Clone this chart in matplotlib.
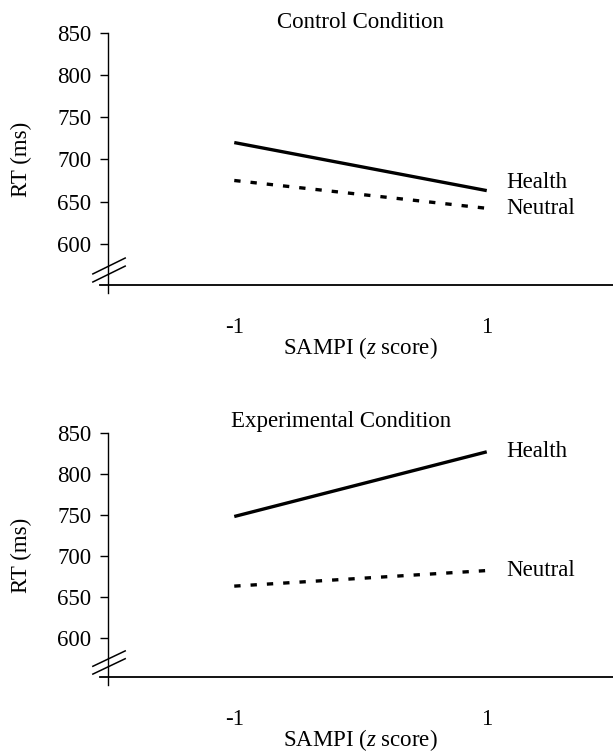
import matplotlib
matplotlib.use("Agg")
import matplotlib.pyplot as plt

plt.rcParams["font.family"] = ["Liberation Serif", "DejaVu Serif"]
plt.rcParams["mathtext.fontset"] = "custom"
plt.rcParams["mathtext.rm"] = "Liberation Serif"
plt.rcParams["mathtext.it"] = "Liberation Serif:italic"

# data
sampi = [-1, 1]
control_health = [720, 663]
control_neutral = [675, 642]
exper_health = [748, 827]
exper_neutral = [663, 682]
yticks = [600, 650, 700, 750, 800, 850]

panels = [
    ("Control Condition", control_health, control_neutral, 0.5, (0.6215, 0.3347), 551, [6, 0], 2),
    ("Experimental Condition", exper_health, exper_neutral, 0.461, (0.1009, 0.3241), 552, [0, 0], 4),
]

fig = plt.figure(figsize=(6.13, 7.53), dpi=100)
FS = 16.5

for title, health, neutral, tx, (bot, h), ymin, offs, tpad in panels:
    ax = fig.add_axes([0.1762, bot, 0.8238, h])
    ax.plot(sampi, health, color="black", lw=2.4, solid_capstyle="butt")
    ax.plot(sampi, neutral, color="black", lw=2.4, linestyle=(0, (1.9, 3.0)))
    ax.set_xlim(-2, 2)
    ax.set_ylim(ymin, 850)
    ax.set_yticks(yticks)
    ax.set_xticks(sampi)
    ax.set_xticklabels(["-1", "1"])
    ax.tick_params(axis="x", length=0, pad=23, labelsize=FS)
    ax.tick_params(axis="y", length=6, width=1, direction="out", pad=6, labelsize=FS)
    for s in ["top", "right"]:
        ax.spines[s].set_visible(False)
    ax.spines["left"].set_bounds(ymin - 10, 850)
    ax.spines["bottom"].set_bounds(-2.06, 2)
    ax.spines["left"].set_linewidth(1)
    ax.spines["bottom"].set_linewidth(1.3)
    ax.set_ylabel("RT (ms)", fontsize=FS, labelpad=18)
    ax.set_xlabel("SAMPI ($z$ score)", fontsize=FS, labelpad=-2)
    ax.set_title(title, fontsize=FS, x=tx, pad=tpad)
    ax.annotate("Health", xy=(1, health[1]), xytext=(14, offs[0]),
                textcoords="offset points", ha="left", va="center", fontsize=FS)
    ax.annotate("Neutral", xy=(1, neutral[1]), xytext=(14, offs[1]),
                textcoords="offset points", ha="left", va="center", fontsize=FS)
    # axis break marks
    for y0, y1 in [(0.044, 0.107), (0.012, 0.075)]:
        ax.plot([-0.030, 0.034], [y0, y1], color="black", lw=1.1,
                transform=ax.transAxes, clip_on=False)

fig.savefig("out.png", dpi=100)
